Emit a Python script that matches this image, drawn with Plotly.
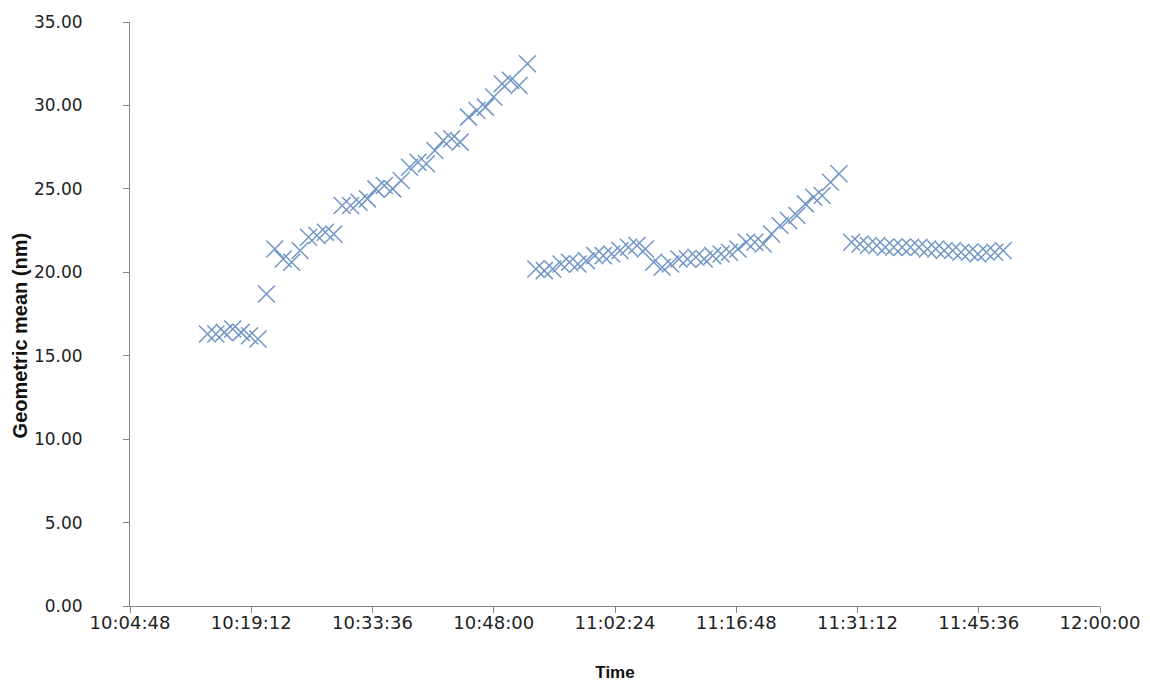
import plotly.graph_objects as go

DAY = "2000-01-01 "

# Segment 1
times_1 = ["10:14", "10:15", "10:16", "10:17", "10:18", "10:19", "10:20", "10:21", "10:22", "10:23",
           "10:24", "10:25", "10:26", "10:27", "10:28", "10:29", "10:30", "10:31", "10:32", "10:33",
           "10:34", "10:35", "10:36", "10:37", "10:38", "10:39", "10:40", "10:41", "10:42", "10:43",
           "10:44", "10:45", "10:46", "10:47", "10:48", "10:49", "10:50", "10:51", "10:52"]
gm_1 = [16.3, 16.3, 16.4, 16.6, 16.4, 16.2, 16.0, 18.7, 21.4, 20.8,
        20.6, 21.3, 22.1, 22.2, 22.4, 22.3, 24.0, 24.0, 24.2, 24.4,
        25.0, 25.2, 25.0, 25.5, 26.3, 26.6, 26.5, 27.3, 27.9, 28.0,
        27.8, 29.3, 29.7, 29.9, 30.5, 31.3, 31.5, 31.2, 32.5]

# Segment 2
times_2 = ["10:53", "10:54", "10:55", "10:56", "10:57", "10:58", "10:59", "11:00", "11:01", "11:02",
           "11:03", "11:04", "11:05", "11:06", "11:07", "11:08", "11:09", "11:10", "11:11", "11:12",
           "11:13", "11:14", "11:15", "11:16", "11:17", "11:18", "11:19", "11:20", "11:21", "11:22",
           "11:23", "11:24", "11:25", "11:26", "11:27", "11:28", "11:29"]
gm_2 = [20.2, 20.1, 20.2, 20.5, 20.6, 20.5, 20.7, 21.0, 21.0, 21.1,
        21.3, 21.5, 21.6, 21.4, 20.6, 20.3, 20.5, 20.8, 20.8, 20.9,
        20.8, 21.0, 21.1, 21.2, 21.4, 21.8, 21.8, 21.7, 22.3, 22.8,
        23.1, 23.4, 24.1, 24.5, 24.6, 25.4, 25.9]

# Segment 3
times_3 = ["11:30:30", "11:31:30", "11:32:30", "11:33:30", "11:34:30", "11:35:30", "11:36:30",
           "11:37:30", "11:38:30", "11:39:30", "11:40:30", "11:41:30", "11:42:30", "11:43:30",
           "11:44:30", "11:45:30", "11:46:30", "11:47:30", "11:48:30"]
gm_3 = [21.8, 21.7, 21.6, 21.6, 21.5, 21.5, 21.5, 21.5, 21.5, 21.4,
        21.4, 21.3, 21.3, 21.2, 21.2, 21.1, 21.2, 21.2, 21.3]

tick_labels = ["10:04:48", "10:19:12", "10:33:36", "10:48:00", "11:02:24",
               "11:16:48", "11:31:12", "11:45:36", "12:00:00"]
y_ticks = [0, 5, 10, 15, 20, 25, 30, 35]

times = [DAY + t for t in times_1 + times_2 + times_3]
values = gm_1 + gm_2 + gm_3

fig = go.Figure()
fig.add_trace(go.Scatter(
    x=times, y=values, mode="markers",
    marker=dict(symbol="x-thin-open", size=17,
                line=dict(color="#7196C6", width=1.5), color="#7196C6"),
    showlegend=False,
))

fig.update_layout(
    width=1142, height=682,
    margin=dict(l=122, r=50, t=14, b=84),
    paper_bgcolor="white", plot_bgcolor="white",
    font=dict(family="DejaVu Sans", color="#222222"),
)
fig.update_xaxes(
    type="date", automargin=False,
    range=[DAY + tick_labels[0], DAY + tick_labels[-1]],
    tickvals=[DAY + t for t in tick_labels], ticktext=tick_labels,
    showgrid=False, zeroline=False,
    showline=True, linecolor="#868686", linewidth=1,
    ticks="outside", ticklen=6, tickcolor="#868686",
    ticklabelstandoff=-6,
    tickfont=dict(family="DejaVu Sans", size=18, color="#222222"),
    title=dict(text="<b>Time</b>", font=dict(family="Liberation Sans", size=17, color="#111111"),
               standoff=34),
)
fig.update_yaxes(
    range=[0, 35], tickvals=y_ticks, automargin=False,
    ticktext=[f"{v:.2f}" for v in y_ticks],
    showgrid=False, zeroline=False,
    showline=True, linecolor="#868686", linewidth=1,
    ticks="outside", ticklen=6, tickcolor="#868686",
    ticklabelstandoff=37,
    tickfont=dict(family="DejaVu Sans", size=17, color="#222222"),
)
fig.add_annotation(
    text="<b>Geometric mean (nm)</b>", textangle=-90,
    xref="paper", yref="paper", x=-0.113, y=0.464,
    xanchor="center", yanchor="middle", showarrow=False,
    font=dict(family="Liberation Sans", size=20, color="#111111"),
)

fig.write_html("out.html")
